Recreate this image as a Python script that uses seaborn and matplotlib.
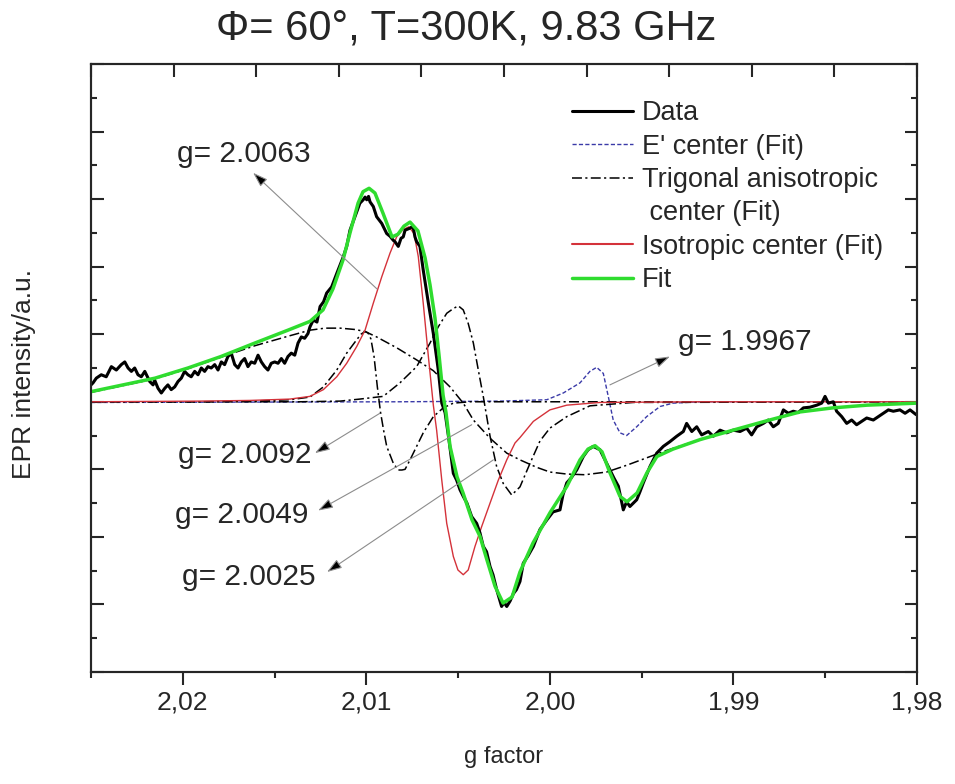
import matplotlib
matplotlib.use("Agg")
import numpy as np
import pandas as pd
import matplotlib.pyplot as plt
from matplotlib.lines import Line2D
from matplotlib.ticker import MultipleLocator, NullFormatter, NullLocator
import seaborn as sns

# ---------------- measured spectrum (g factor, intensity in a.u.) ----------------
data_g = [2.02500, 2.02489, 2.02471, 2.02444, 2.02417, 2.02389, 2.02362, 2.02335, 2.02316, 2.02298,
          2.02280, 2.02262, 2.02244, 2.02226, 2.02207, 2.02180, 2.02162, 2.02153, 2.02135, 2.02117,
          2.02098, 2.02081, 2.02063, 2.02044, 2.02026, 2.02008, 2.01990, 2.01972, 2.01954, 2.01935,
          2.01917, 2.01899, 2.01881, 2.01863, 2.01845, 2.01826, 2.01808, 2.01790, 2.01772, 2.01754,
          2.01736, 2.01717, 2.01699, 2.01681, 2.01663, 2.01645, 2.01627, 2.01608, 2.01590, 2.01572,
          2.01554, 2.01536, 2.01518, 2.01499, 2.01481, 2.01463, 2.01445, 2.01427, 2.01409, 2.01390,
          2.01372, 2.01354, 2.01336, 2.01318, 2.01307, 2.01289, 2.01269, 2.01252, 2.01233, 2.01216,
          2.01189, 2.01161, 2.01125, 2.01107, 2.01089, 2.01062, 2.01035, 2.01017, 2.01007, 2.00998,
          2.00988, 2.00980, 2.00962, 2.00944, 2.00916, 2.00889, 2.00871, 2.00853, 2.00844, 2.00826,
          2.00811, 2.00799, 2.00789, 2.00762, 2.00746, 2.00735, 2.00726, 2.00708, 2.00690, 2.00662,
          2.00635, 2.00608, 2.00589, 2.00571, 2.00550, 2.00526, 2.00508, 2.00490, 2.00472, 2.00452,
          2.00426, 2.00399, 2.00381, 2.00363, 2.00345, 2.00326, 2.00310, 2.00290, 2.00277, 2.00263,
          2.00250, 2.00235, 2.00217, 2.00199, 2.00182, 2.00163, 2.00145, 2.00119, 2.00090, 2.00054,
          2.00017, 1.99983, 1.99945, 1.99929, 1.99908, 1.99885, 1.99854, 1.99818, 1.99792, 1.99764,
          1.99727, 1.99700, 1.99673, 1.99651, 1.99627, 1.99600, 1.99582, 1.99564, 1.99527, 1.99509,
          1.99491, 1.99455, 1.99418, 1.99382, 1.99346, 1.99309, 1.99273, 1.99255, 1.99227, 1.99200,
          1.99173, 1.99137, 1.99110, 1.99073, 1.99037, 1.99001, 1.98964, 1.98928, 1.98901, 1.98873,
          1.98837, 1.98810, 1.98783, 1.98756, 1.98728, 1.98701, 1.98674, 1.98647, 1.98619, 1.98583,
          1.98546, 1.98519, 1.98501, 1.98483, 1.98456, 1.98438, 1.98410, 1.98383, 1.98356, 1.98329,
          1.98301, 1.98274, 1.98238, 1.98211, 1.98184, 1.98156, 1.98129, 1.98093, 1.98065, 1.98038,
          1.98005]
data_v = [0.25, 0.28, 0.35, 0.40, 0.37, 0.52, 0.47, 0.55, 0.59, 0.50,
          0.45, 0.50, 0.40, 0.37, 0.45, 0.30, 0.25, 0.32, 0.20, 0.13,
          0.20, 0.25, 0.18, 0.22, 0.30, 0.35, 0.45, 0.40, 0.37, 0.45,
          0.40, 0.50, 0.45, 0.52, 0.50, 0.55, 0.47, 0.59, 0.55, 0.67,
          0.72, 0.55, 0.50, 0.59, 0.64, 0.52, 0.59, 0.57, 0.69, 0.59,
          0.52, 0.47, 0.57, 0.59, 0.57, 0.64, 0.57, 0.67, 0.72, 0.69,
          0.87, 0.96, 0.94, 1.01, 1.11, 1.21, 1.18, 1.41, 1.48, 1.61,
          1.70, 1.90, 2.15, 2.30, 2.54, 2.74, 2.94, 2.99, 3.03, 2.99,
          3.04, 2.96, 2.89, 2.74, 2.64, 2.49, 2.45, 2.39, 2.37, 2.30,
          2.42, 2.44, 2.54, 2.57, 2.60, 2.44, 2.37, 2.30, 1.95, 1.46,
          1.01, 0.47, -0.02, -0.16, -0.56, -1.06, -1.16, -1.30, -1.40, -1.50,
          -1.70, -1.80, -1.94, -2.14, -2.22, -2.44, -2.56, -2.78, -2.90, -3.03,
          -2.97, -3.03, -2.95, -2.84, -2.78, -2.66, -2.39, -2.28, -2.14, -1.89,
          -1.75, -1.63, -1.60, -1.38, -1.20, -1.13, -1.01, -0.81, -0.71, -0.66,
          -0.71, -0.86, -1.01, -1.13, -1.25, -1.60, -1.48, -1.55, -1.45, -1.33,
          -1.20, -0.96, -0.76, -0.66, -0.59, -0.51, -0.44, -0.32, -0.44, -0.37,
          -0.49, -0.44, -0.51, -0.42, -0.46, -0.42, -0.44, -0.39, -0.49, -0.37,
          -0.32, -0.27, -0.37, -0.32, -0.12, -0.17, -0.14, -0.16, -0.09, -0.08,
          -0.05, -0.02, 0.08, -0.02, 0.00, -0.14, -0.22, -0.32, -0.27, -0.34,
          -0.29, -0.24, -0.27, -0.22, -0.17, -0.12, -0.14, -0.12, -0.17, -0.12,
          -0.19]

# ---------------- total fit ----------------
fit_g = [2.02500, 2.02151, 2.01972, 2.01792, 2.01607, 2.01427, 2.01307, 2.01236, 2.01182, 2.01127,
         2.01089, 2.01045, 2.01018, 2.00985, 2.00953, 2.00909, 2.00860, 2.00828, 2.00795, 2.00762,
         2.00719, 2.00680, 2.00653, 2.00626, 2.00604, 2.00582, 2.00566, 2.00544, 2.00506, 2.00473,
         2.00424, 2.00381, 2.00343, 2.00299, 2.00255, 2.00206, 2.00163, 2.00092, 1.99999, 1.99907,
         1.99836, 1.99792, 1.99754, 1.99716, 1.99673, 1.99618, 1.99580, 1.99525, 1.99471, 1.99417,
         1.99329, 1.99182, 1.99002, 1.98817, 1.98637, 1.98458, 1.98272, 1.98000]
fit_v = [0.15, 0.35, 0.50, 0.67, 0.87, 1.06, 1.19, 1.36, 1.67, 2.10,
         2.50, 2.94, 3.11, 3.16, 3.09, 2.79, 2.44, 2.48, 2.60, 2.66,
         2.53, 2.13, 1.73, 1.24, 0.69, 0.10, -0.16, -0.66, -1.11, -1.35,
         -1.75, -1.99, -2.34, -2.73, -2.98, -2.89, -2.52, -2.09, -1.64, -1.25,
         -0.86, -0.70, -0.65, -0.74, -1.05, -1.40, -1.48, -1.35, -1.05, -0.81,
         -0.70, -0.56, -0.42, -0.28, -0.15, -0.09, -0.05, -0.02]

# ---------------- isotropic center (fit component) ----------------
iso_g = [2.02500, 2.01906, 2.01634, 2.01416, 2.01307, 2.01234, 2.01161, 2.01107, 2.01052, 2.01007,
         2.00962, 2.00916, 2.00871, 2.00835, 2.00800, 2.00768, 2.00740, 2.00717, 2.00690, 2.00662,
         2.00635, 2.00617, 2.00589, 2.00562, 2.00526, 2.00501, 2.00472, 2.00445, 2.00408, 2.00372,
         2.00326, 2.00281, 2.00235, 2.00190, 2.00163, 2.00090, 2.00000, 1.99908, 1.99727, 1.99182,
         1.98000]
iso_v = [0.00, 0.01, 0.02, 0.04, 0.08, 0.18, 0.37, 0.57, 0.82, 1.06,
         1.46, 1.85, 2.20, 2.44, 2.55, 2.59, 2.49, 2.15, 1.46, 0.67,
         -0.05, -0.42, -1.16, -1.80, -2.29, -2.49, -2.56, -2.49, -2.14, -1.85,
         -1.50, -1.16, -0.86, -0.61, -0.53, -0.29, -0.12, -0.05, -0.01, 0.00,
         0.00]

# ---------------- E' center (fit component) ----------------
ep_g = [2.02500, 2.00817, 2.00272, 2.00017, 1.99927, 1.99836, 1.99782, 1.99745, 1.99709, 1.99682,
        1.99655, 1.99618, 1.99582, 1.99527, 1.99473, 1.99400, 1.99328, 1.99182, 1.98000]
ep_v = [-0.01, 0.00, 0.01, 0.03, 0.13, 0.28, 0.45, 0.51, 0.42, 0.08,
        -0.27, -0.46, -0.50, -0.37, -0.22, -0.07, -0.02, 0.00, 0.00]

# ---------------- trigonal anisotropic center (fit components) ----------------
tri_broad_g = [2.02500, 2.02151, 2.01972, 2.01792, 2.01607, 2.01427, 2.01307, 2.01225, 2.01143, 2.01062,
               2.01007, 2.00944, 2.00835, 2.00726, 2.00635, 2.00544, 2.00472, 2.00417, 2.00326, 2.00235,
               2.00163, 2.00072, 2.00000, 1.99908, 1.99809, 1.99691, 1.99582, 1.99473, 1.99364, 1.99182,
               1.99002, 1.98817, 1.98637, 1.98458, 1.98272, 1.98000]
tri_broad_v = [0.14, 0.34, 0.49, 0.66, 0.83, 0.97, 1.06, 1.09, 1.09, 1.07,
               1.04, 0.96, 0.80, 0.62, 0.46, 0.22, -0.02, -0.27, -0.54, -0.76,
               -0.86, -0.97, -1.04, -1.07, -1.08, -1.04, -0.94, -0.83, -0.72, -0.56,
               -0.42, -0.28, -0.15, -0.09, -0.05, -0.02]

tri_a_g = [2.02500, 2.01906, 2.01634, 2.01416, 2.01307, 2.01234, 2.01161, 2.01107, 2.01052, 2.01029,
           2.01007, 2.00991, 2.00975, 2.00958, 2.00940, 2.00923, 2.00906, 2.00889, 2.00853, 2.00826,
           2.00806, 2.00789, 2.00762, 2.00690, 2.00635, 2.00581, 2.00526, 2.00435, 1.98000]
tri_a_v = [0.00, 0.00, 0.01, 0.03, 0.07, 0.22, 0.47, 0.72, 0.92, 1.00,
           1.04, 1.02, 0.93, 0.67, 0.22, -0.15, -0.42, -0.66, -0.91, -1.01,
           -1.01, -1.00, -0.86, -0.46, -0.22, -0.09, -0.02, 0.00, 0.00]

tri_b_g = [2.02500, 2.01361, 2.01143, 2.01035, 2.00908, 2.00817, 2.00726, 2.00653, 2.00608, 2.00562,
           2.00526, 2.00499, 2.00472, 2.00445, 2.00417, 2.00390, 2.00363, 2.00326, 2.00290, 2.00254,
           2.00208, 2.00163, 2.00108, 2.00054, 2.00000, 1.99908, 1.99782, 1.99546, 1.98000]
tri_b_v = [0.00, 0.00, 0.01, 0.04, 0.08, 0.28, 0.52, 0.87, 1.11, 1.31,
           1.38, 1.42, 1.36, 1.16, 0.87, 0.47, 0.08, -0.51, -0.96, -1.21,
           -1.38, -1.26, -0.91, -0.58, -0.39, -0.22, -0.06, -0.01, 0.00]

# ---------------- axis ticks ----------------
x_ticks = [2.02, 2.01, 2.00, 1.99, 1.98]
x_tick_labels = ["2,02", "2,01", "2,00", "1,99", "1,98"]
top_ticks = list(np.linspace(2.025, 1.98, 11))

# ---------------- g-value annotations: label, text pos, arrow head, arrow tail ----------------
g_labels = ["g= 2.0063", "g= 1.9967", "g= 2.0092", "g= 2.0049", "g= 2.0025"]
g_text_pos = [(2.02031, 3.67), (1.99302, 0.89), (2.02026, -0.79), (2.02042, -1.67), (2.02004, -2.60)]
g_head_pos = [(2.01617, 3.39), (1.99346, 0.67), (2.01280, -0.76), (2.01263, -1.61), (2.01214, -2.52)]
g_tail_pos = [(2.00942, 1.67), (1.99673, 0.25), (2.00926, -0.17), (2.00426, -0.34), (2.00308, -0.86)]

# ---------------- styling ----------------
sns.set_style("ticks")
plt.rcParams["font.family"] = ["Liberation Sans", "DejaVu Sans"]
plt.rcParams["axes.linewidth"] = 1.5

C_DATA = "black"
C_FIT = "#2fdc2f"
C_ISO = "#d4323a"
C_EP = "#3a3aa8"
C_TRI = "black"
LS_EP = (0, (3.0, 1.6))
LS_TRI = (0, (6.5, 2.2, 1.4, 2.2))

fig = plt.figure(figsize=(9.55, 7.84), dpi=100)
ax = fig.add_axes([91 / 955, 1 - 672 / 784, 826 / 955, 608 / 784])


def trace(g, v, **kw):
    df = pd.DataFrame({"g": g, "v": v})
    sns.lineplot(data=df, x="g", y="v", ax=ax, sort=False, estimator=None,
                 legend=False, **kw)


trace(ep_g, ep_v, color=C_EP, linewidth=1.0, linestyle=LS_EP, zorder=2)
trace(tri_broad_g, tri_broad_v, color=C_TRI, linewidth=1.1, linestyle=LS_TRI, zorder=3)
trace(tri_a_g, tri_a_v, color=C_TRI, linewidth=1.1, linestyle=LS_TRI, zorder=3)
trace(tri_b_g, tri_b_v, color=C_TRI, linewidth=1.1, linestyle=LS_TRI, zorder=3)
trace(iso_g, iso_v, color=C_ISO, linewidth=1.0, zorder=4)
trace(data_g, data_v, color=C_DATA, linewidth=2.2, zorder=5)
trace(fit_g, fit_v, color=C_FIT, linewidth=2.5, zorder=6)

ax.set_xlim(2.025, 1.98)
ax.set_ylim(-4, 5)
ax.set_xticks(x_ticks, labels=x_tick_labels)
ax.xaxis.set_minor_locator(MultipleLocator(0.005))
ax.yaxis.set_major_locator(MultipleLocator(1))
ax.yaxis.set_minor_locator(MultipleLocator(0.5))
ax.yaxis.set_major_formatter(NullFormatter())

ax.tick_params(axis="x", which="both", direction="out", bottom=True, top=False,
               width=1.5, labelsize=19, pad=4)
ax.tick_params(axis="x", which="major", length=9)
ax.tick_params(axis="x", which="minor", length=4.5)
ax.tick_params(axis="y", which="both", direction="in", left=True, right=True, width=1.5)
ax.tick_params(axis="y", which="major", length=9)
ax.tick_params(axis="y", which="minor", length=4.5)

# magnetic-field scale ticks along the top edge
ax_top = ax.twiny()
ax_top.set_xlim(ax.get_xlim())
ax_top.set_xticks(top_ticks)
ax_top.xaxis.set_minor_locator(NullLocator())
ax_top.tick_params(axis="x", direction="in", length=9, width=1.5, labeltop=False)

ax.set_xlabel("g factor", fontsize=17)
ax.xaxis.set_label_coords(0.5, -0.14)
ax.xaxis.label.set_va("center")
ax.set_ylabel("EPR intensity/a.u.", fontsize=19)
ax.yaxis.set_label_coords(-0.081, 0.49)
ax.yaxis.label.set_va("center")

fig.text(0.488, 0.964, "\u03a6= 60\u00b0, T=300K, 9.83 GHz", ha="center", va="center",
         fontsize=30)

for lab, tpos, hpos, tail in zip(g_labels, g_text_pos, g_head_pos, g_tail_pos):
    ax.text(tpos[0], tpos[1], lab, ha="left", va="center", fontsize=21.5, zorder=8)
    ax.annotate("", xy=hpos, xytext=tail, xycoords="data", textcoords="data",
                arrowprops=dict(arrowstyle="-|>,head_length=0.9,head_width=0.3",
                                ec="0.55", fc="black", lw=0.8, shrinkA=0, shrinkB=0,
                                mutation_scale=10),
                zorder=7)

handles = [
    Line2D([], [], color=C_DATA, lw=2.2),
    Line2D([], [], color=C_EP, lw=1.0, linestyle=LS_EP),
    Line2D([], [], color=C_TRI, lw=1.1, linestyle=LS_TRI),
    Line2D([], [], color="none", lw=0),
    Line2D([], [], color=C_ISO, lw=1.5),
    Line2D([], [], color=C_FIT, lw=2.5),
]
labels = ["Data", "E' center (Fit)", "Trigonal anisotropic", " center (Fit)",
          "Isotropic center (Fit)", "Fit"]
ax.legend(handles, labels, loc="upper left", bbox_to_anchor=(0.5823, 0.9400),
          frameon=False, fontsize=19.5, handlelength=2.26, handletextpad=0.33,
          labelspacing=0.27, borderpad=0, borderaxespad=0)

fig.savefig("out.png", dpi=100)
